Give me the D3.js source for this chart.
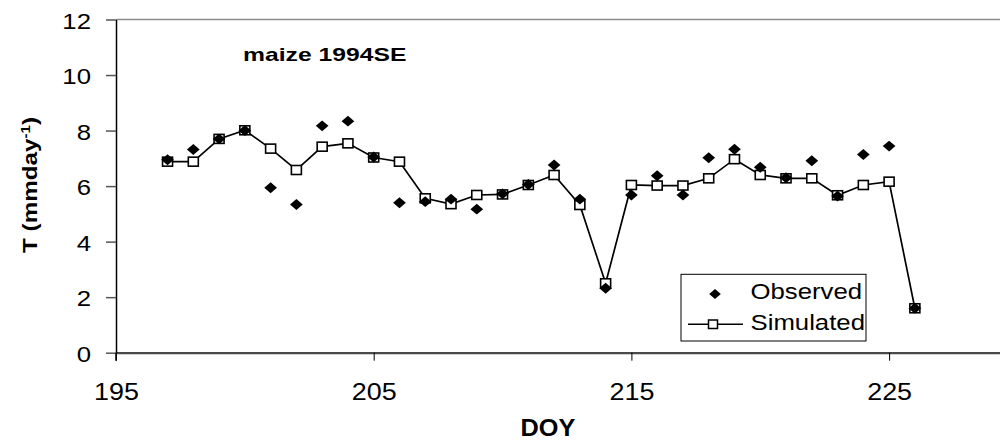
<!DOCTYPE html>
<html>
<head>
<meta charset="utf-8">
<script src="https://cdn.jsdelivr.net/npm/d3@7/dist/d3.min.js"></script>
<style>
  html, body { margin: 0; padding: 0; background: #fff; }
  svg { display: block; }
  text { font-family: "Liberation Sans", Arial, sans-serif; fill: #000; }
</style>
</head>
<body>
<svg id="chart" width="1000" height="442"></svg>
<script>
// Daily transpiration, maize 1994SE
const days = [197, 198, 199, 200, 201, 202, 203, 204, 205, 206, 207, 208, 209, 210, 211,
              212, 213, 214, 215, 216, 217, 218, 219, 220, 221, 222, 223, 224, 225, 226];
const observed = [6.95, 7.32, 7.70, 8.00, 5.94, 5.34, 8.17, 8.34, 7.05, 5.40, 5.44, 5.53, 5.17, 5.72, 6.06,
                  6.76, 5.53, 2.32, 5.68, 6.37, 5.68, 7.02, 7.33, 6.68, 6.30, 6.91, 5.64, 7.14, 7.44, 1.60];
const simulated = [6.88, 6.88, 7.70, 8.01, 7.35, 6.58, 7.42, 7.54, 7.03, 6.88, 5.56, 5.35, 5.68, 5.70, 6.04,
                   6.40, 5.32, 2.50, 6.04, 6.02, 6.02, 6.28, 6.97, 6.40, 6.28, 6.28, 5.67, 6.04, 6.16, 1.60];
const xTicks = [195, 205, 215, 225];
const yTicks = [0, 2, 4, 6, 8, 10, 12];
const seriesNames = ["Observed", "Simulated"];
const chartTitle = "maize 1994SE";

const svg = d3.select("#chart");
const plotLeft = 116, plotTop = 19.5, plotBottom = 352.7;

const x = d3.scaleLinear().domain([195, 235]).range([plotLeft, plotLeft + 40 * 25.77]);
const y = d3.scaleLinear().domain([0, 12]).range([plotBottom, plotTop]);

// widen glyphs horizontally by factor k
function stretch(sel, k) {
  sel.each(function () {
    const len = this.getComputedTextLength();
    d3.select(this).attr("textLength", len * k).attr("lengthAdjust", "spacingAndGlyphs");
  });
}

// top frame line
svg.append("line")
  .attr("x1", plotLeft).attr("x2", 1000).attr("y1", plotTop).attr("y2", plotTop)
  .attr("stroke", "#8c8c8c").attr("stroke-width", 1.5);

// x axis
const gx = svg.append("g").attr("transform", `translate(0,${plotBottom})`)
  .call(d3.axisBottom(x).tickValues(xTicks).tickSize(8).tickSizeOuter(0));
gx.select(".domain").attr("stroke", "#4a4a4a").attr("stroke-width", 2.2);
gx.selectAll(".tick line").attr("stroke", "#000").attr("stroke-width", 1);
gx.selectAll(".tick text")
  .attr("y", 47).attr("dy", 0)
  .style("font-size", "23px").style("font-family", "Liberation Sans, Arial, sans-serif")
  .call(stretch, 1.17);

// y axis
const gy = svg.append("g").attr("transform", `translate(${plotLeft},0)`)
  .call(d3.axisLeft(y).tickValues(yTicks).tickSize(10).tickPadding(15).tickSizeOuter(0));
gy.select(".domain").attr("stroke", "#000").attr("stroke-width", 1.5);
gy.selectAll(".tick line").attr("stroke", "#555").attr("stroke-width", 1.5);
gy.selectAll(".tick text")
  .attr("dy", "0.4em")
  .style("font-size", "22px").style("font-family", "Liberation Sans, Arial, sans-serif")
  .call(stretch, 1.17);
// y axis runs down to the first x tick
svg.append("line")
  .attr("x1", plotLeft).attr("x2", plotLeft).attr("y1", plotBottom).attr("y2", plotBottom + 8)
  .attr("stroke", "#000").attr("stroke-width", 1.5);

// axis titles
svg.append("text")
  .attr("x", 548).attr("y", 436)
  .attr("text-anchor", "middle")
  .style("font-size", "23px").style("font-weight", "bold")
  .text("DOY")
  .call(stretch, 1.1);

const yt = svg.append("text")
  .attr("transform", "translate(37,185) rotate(-90)")
  .attr("text-anchor", "middle")
  .style("font-size", "21px").style("font-weight", "bold");
yt.append("tspan").text("T (mmday");
yt.append("tspan").attr("baseline-shift", "super").style("font-size", "13px").text("-1");
yt.append("tspan").text(")");
yt.attr("textLength", 136).attr("lengthAdjust", "spacingAndGlyphs");

// chart title
svg.append("text")
  .attr("x", 243).attr("y", 61)
  .style("font-size", "19px").style("font-weight", "bold")
  .text(chartTitle)
  .call(stretch, 1.3);

// diamond marker, a little wider than tall
const diamond = {
  draw(ctx, size) {
    const w = Math.sqrt(size) * 0.58, h = w * 0.86;
    ctx.moveTo(0, -h); ctx.lineTo(w, 0); ctx.lineTo(0, h); ctx.lineTo(-w, 0); ctx.closePath();
  }
};

// simulated series: line with open squares
svg.append("path")
  .datum(days.map((d, i) => [d, simulated[i]]))
  .attr("fill", "none").attr("stroke", "#000").attr("stroke-width", 1.7)
  .attr("d", d3.line().x(d => x(d[0])).y(d => y(d[1])));

svg.append("g").selectAll("rect")
  .data(days.map((d, i) => [d, simulated[i]]))
  .join("rect")
  .attr("x", d => x(d[0]) - 5).attr("y", d => y(d[1]) - 4.5)
  .attr("width", 10).attr("height", 9)
  .attr("fill", "#fff").attr("stroke", "#000").attr("stroke-width", 1.6);

// observed series: filled diamonds
svg.append("g").selectAll("path")
  .data(days.map((d, i) => [d, observed[i]]))
  .join("path")
  .attr("transform", d => `translate(${x(d[0])},${y(d[1])})`)
  .attr("d", d3.symbol().type(diamond).size(120)())
  .attr("fill", "#000");

// legend
const lg = svg.append("g");
lg.append("rect")
  .attr("x", 681).attr("y", 274.3).attr("width", 185).attr("height", 66.7)
  .attr("fill", "#fff").attr("stroke", "#000").attr("stroke-width", 1);
lg.append("path")
  .attr("transform", "translate(715,294)")
  .attr("d", d3.symbol().type(diamond).size(100)())
  .attr("fill", "#000");
lg.append("line")
  .attr("x1", 688).attr("x2", 743).attr("y1", 324.3).attr("y2", 324.3)
  .attr("stroke", "#000").attr("stroke-width", 1.5);
lg.append("rect")
  .attr("x", 708.5).attr("y", 320).attr("width", 9).attr("height", 8.5)
  .attr("fill", "#fff").attr("stroke", "#000").attr("stroke-width", 1.5);
lg.selectAll("text.lbl")
  .data(seriesNames)
  .join("text")
  .attr("class", "lbl")
  .attr("x", 750.5)
  .attr("y", (d, i) => i === 0 ? 298.5 : 330)
  .style("font-size", "22px")
  .text(d => d)
  .call(stretch, 1.17);
</script>
</body>
</html>
